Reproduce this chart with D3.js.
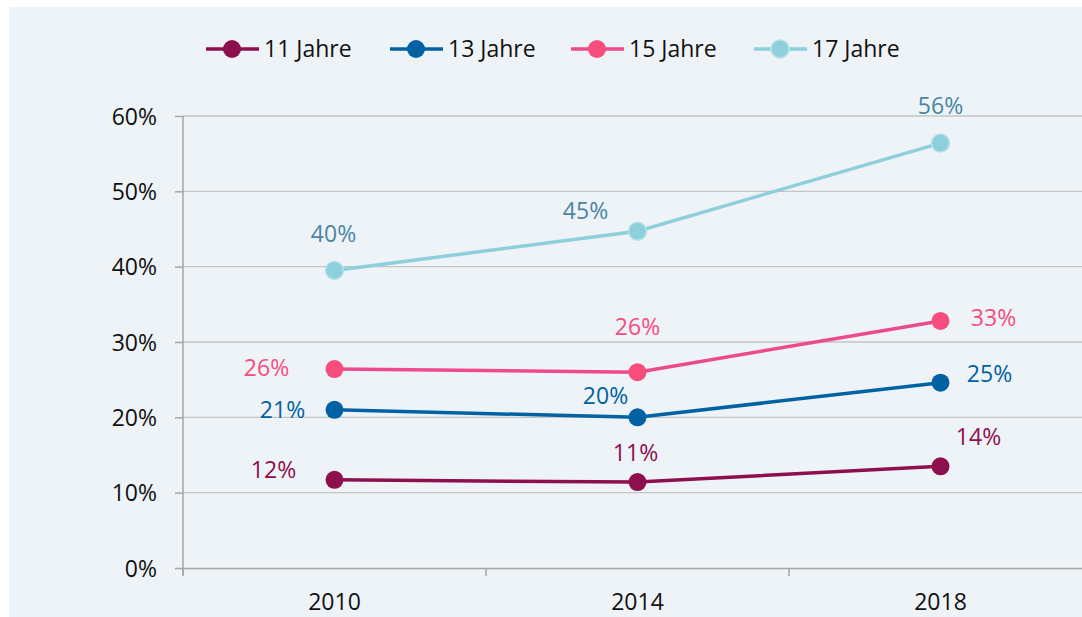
<!DOCTYPE html>
<html>
<head>
<meta charset="utf-8">
<script src="https://cdn.jsdelivr.net/npm/d3@7"></script>
<style>
  html, body { margin: 0; padding: 0; background: #fff; }
  svg { display: block; font-family: "Open Sans", sans-serif; }
</style>
</head>
<body>
<svg id="chart" width="1082" height="617"></svg>
<script>
// Anteil nach Alter, 2010 – 2018
const years = ["2010", "2014", "2018"];
const series = ["11 Jahre", "13 Jahre", "15 Jahre", "17 Jahre"];
const values11 = [11.7, 11.4, 13.5];
const values13 = [21.0, 20.0, 24.6];
const values15 = [26.4, 26.0, 32.8];
const values17 = [39.5, 44.7, 56.4];
const labels11 = ["12%", "11%", "14%"];
const labels13 = ["21%", "20%", "25%"];
const labels15 = ["26%", "26%", "33%"];
const labels17 = ["40%", "45%", "56%"];
const yTicks = [0, 10, 20, 30, 40, 50, 60];

const lineColors  = ["#8e0f4e", "#0062a3", "#ec4a8d", "#8dd0db"];
const dotColors   = ["#8e0f4e", "#0062a3", "#f64d7d", "#8dd0db"];
const labelColors = ["#8e0f4e", "#0062a3", "#f64d7d", "#4a85a6"];
// Label-Versatz je Punkt (dx, dy)
const labelOffset = [
  [[-61, -10], [-2, -29], [38, -29]],
  [[-52, 0], [-32, -21], [49, -9]],
  [[-68, -1], [0, -45], [53, -3]],
  [[-1, -36], [-52, -20], [0, -37]]
];

const FS = "23px";

const data = [values11, values13, values15, values17].map((v, i) => ({
  name: series[i],
  points: v.map((val, j) => ({ year: years[j], val, label: [labels11, labels13, labels15, labels17][i][j] }))
}));

const svg = d3.select("#chart");
const W = 1082, H = 617;
const margin = { top: 116, right: -10, bottom: 49, left: 183 };

svg.append("rect").attr("x", 9).attr("y", 7).attr("width", W - 9).attr("height", H - 7)
  .attr("fill", "#eef3f7");

const x = d3.scaleBand().domain(years).range([margin.left, W - margin.right]);
const y = d3.scaleLinear().domain([0, 60]).range([H - margin.bottom, margin.top]);

// Gitterlinien
svg.append("g").selectAll("line").data(yTicks.filter(d => d > 0)).join("line")
  .attr("x1", margin.left).attr("x2", W)
  .attr("y1", d => y(d)).attr("y2", d => y(d))
  .attr("stroke", "#c4c4c4").attr("stroke-width", 1.3);

// Y-Achse
const yAxis = svg.append("g")
  .attr("transform", `translate(${margin.left},0)`)
  .call(d3.axisLeft(y).tickValues(yTicks).tickSize(8).tickPadding(18).tickFormat(d => d + "%"))
  .attr("font-family", null).attr("font-size", null);
yAxis.select(".domain").attr("stroke", "#a6a6a6").attr("stroke-width", 1.5)
  .attr("d", `M0,${y(0) + 7}V${y(60)}`);
yAxis.selectAll(".tick line").attr("stroke", "#a6a6a6").attr("stroke-width", 1.5);
yAxis.selectAll(".tick text").attr("fill", "#111").style("font-size", FS)
  .attr("dy", "0.35em");

// X-Achse
const xAxis = svg.append("g")
  .attr("transform", `translate(0,${y(0)})`)
  .call(d3.axisBottom(x).tickSize(0).tickPadding(26))
  .attr("font-family", null).attr("font-size", null);
xAxis.select(".domain").attr("stroke", "#a6a6a6").attr("stroke-width", 1.5);
xAxis.selectAll(".tick text").attr("fill", "#111").style("font-size", FS);
svg.append("g").selectAll("line").data(years).join("line")
  .attr("x1", d => x(d)).attr("x2", d => x(d))
  .attr("y1", y(0)).attr("y2", y(0) + 8)
  .attr("stroke", "#a6a6a6").attr("stroke-width", 1.5);

const cx = d => x(d) + x.bandwidth() / 2;
const line = d3.line().x(d => cx(d.year)).y(d => y(d.val));

// Linien, Punkte, Beschriftungen
data.forEach((s, i) => {
  const g = svg.append("g");
  g.append("path").datum(s.points)
    .attr("d", line).attr("fill", "none")
    .attr("stroke", lineColors[i]).attr("stroke-width", 3.5);
  g.selectAll("circle").data(s.points).join("circle")
    .attr("cx", d => cx(d.year)).attr("cy", d => y(d.val)).attr("r", 9)
    .attr("fill", dotColors[i])
    .attr("stroke", i === 3 ? "#b7e2ea" : "none").attr("stroke-width", 1.5);
  g.selectAll("text").data(s.points).join("text")
    .attr("x", (d, j) => cx(d.year) + labelOffset[i][j][0])
    .attr("y", (d, j) => y(d.val) + labelOffset[i][j][1])
    .attr("dy", "0.35em")
    .attr("text-anchor", "middle")
    .attr("fill", labelColors[i])
    .style("font-size", FS)
    .text(d => d.label);
});

// Legende
const legendX = [232, 416, 597, 780];
const legend = svg.append("g").attr("transform", "translate(0,49)");
series.forEach((name, i) => {
  const item = legend.append("g").attr("transform", `translate(${legendX[i]},0)`);
  item.append("line").attr("x1", -26).attr("x2", 27)
    .attr("stroke", lineColors[i]).attr("stroke-width", 3.5);
  item.append("circle").attr("r", 9).attr("fill", dotColors[i])
    .attr("stroke", i === 3 ? "#b7e2ea" : "none").attr("stroke-width", 1.5);
  item.append("text").attr("x", 32).attr("dy", "0.35em")
    .attr("fill", "#111").style("font-size", FS).text(name);
});
</script>
</body>
</html>
